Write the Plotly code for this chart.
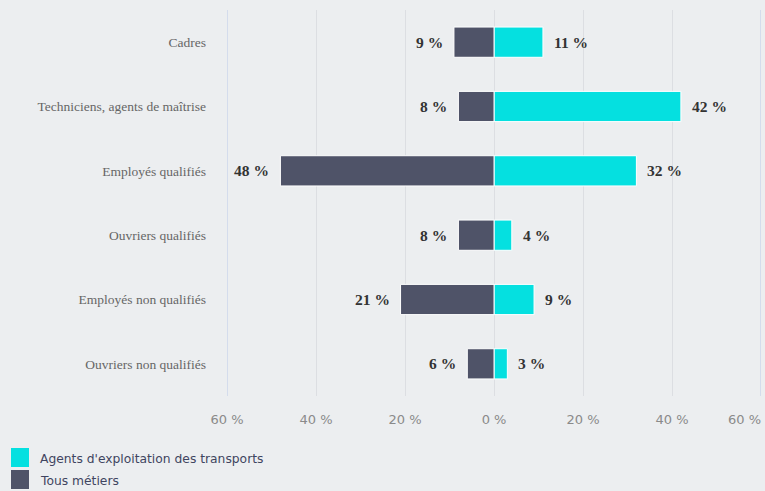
import plotly.graph_objects as go

categories = ["Cadres", "Techniciens, agents de maîtrise", "Employés qualifiés",
              "Ouvriers qualifiés", "Employés non qualifiés", "Ouvriers non qualifiés"]
agents = [11, 42, 32, 4, 9, 3]
tous = [9, 8, 48, 8, 21, 6]
series_names = ["Agents d'exploitation des transports", "Tous métiers"]
tick_vals = [-60, -40, -20, 0, 20, 40]
tick_text = ["60 %", "40 %", "20 %", "0 %", "20 %", "40 %"]
last_tick_val = 60
last_tick_text = "60 %"

CYAN = "#05e0e0"
DARK = "#4f5368"
BG = "#eceef0"
colors = [CYAN, DARK]

# plot area in pixels (for paper-coordinate conversion of legend items)
W, H = 765, 491
ML, MR, MT, MB = 227, 4, 10, 95
PW, PH = W - ML - MR, H - MT - MB


def px_x(px):
    return (px - ML) / PW


def px_y(py):
    return (H - MB - py) / PH


fig = go.Figure()
fig.add_trace(go.Bar(
    y=categories, x=agents, orientation="h", name=series_names[0],
    marker=dict(color=CYAN, line=dict(color="white", width=1)), width=0.47,
))
fig.add_trace(go.Bar(
    y=categories, x=[-v for v in tous], orientation="h", name=series_names[1],
    marker=dict(color=DARK, line=dict(color="white", width=1)), width=0.47,
))

lab_font = dict(family="Liberation Serif", size=15.5, color="#333333")
for c, a, t in zip(categories, agents, tous):
    fig.add_annotation(x=a, y=c, text=f"<b>{a} %</b>", showarrow=False,
                       xanchor="left", xshift=9, font=lab_font)
    fig.add_annotation(x=-t, y=c, text=f"<b>{t} %</b>", showarrow=False,
                       xanchor="right", xshift=-9, font=lab_font)

tick_font = dict(family="DejaVu Sans", size=13, color="#8a8a8a")
# last x tick label, kept inside the page (right-aligned at the axis end)
fig.add_annotation(x=last_tick_val, y=0, xref="x", yref="paper", text=last_tick_text,
                   showarrow=False, xanchor="right", yanchor="middle", xshift=2,
                   yshift=-23.5, font=tick_font)

# legend (drawn as squares + texts below the plot)
shapes = [
    dict(type="line", xref="x", yref="paper", x0=-60, x1=-60, y0=0, y1=1,
         line=dict(color="#ccd6eb", width=1.5)),
    dict(type="line", xref="x", yref="paper", x0=60, x1=60, y0=0, y1=1,
         line=dict(color="#ccd6eb", width=1.5)),
]
leg_tops = [448, 470]
for name, col, top in zip(series_names, colors, leg_tops):
    shapes.append(dict(type="rect", xref="paper", yref="paper",
                       x0=px_x(11), x1=px_x(29), y0=px_y(top + 19), y1=px_y(top),
                       fillcolor=col, line=dict(width=0)))
    fig.add_annotation(x=px_x(38), y=px_y(top + 11), xref="paper", yref="paper",
                       text=name, showarrow=False, xanchor="left", yanchor="middle",
                       font=dict(family="DejaVu Sans", size=12.3, color="#3f4560"))

fig.update_layout(
    width=W, height=H,
    margin=dict(l=ML, r=MR, t=MT, b=MB),
    paper_bgcolor=BG, plot_bgcolor=BG,
    barmode="relative",
    showlegend=False,
    xaxis=dict(range=[-60, 60], tickvals=tick_vals, ticktext=tick_text,
               showgrid=True, gridcolor="#dcdee2", gridwidth=1, zeroline=False,
               showline=False, ticks="", ticklabelstandoff=14, automargin=False,
               tickfont=tick_font, fixedrange=True),
    yaxis=dict(autorange="reversed", showgrid=False, zeroline=False,
               ticks="", ticklabelstandoff=20, automargin=False,
               tickfont=dict(family="Liberation Serif", size=13.5, color="#666666"),
               fixedrange=True),
    shapes=shapes,
)

fig.write_html("out.html", config={"displayModeBar": False},
               post_script="document.body.style.margin='0';document.body.style.overflow='hidden';")
